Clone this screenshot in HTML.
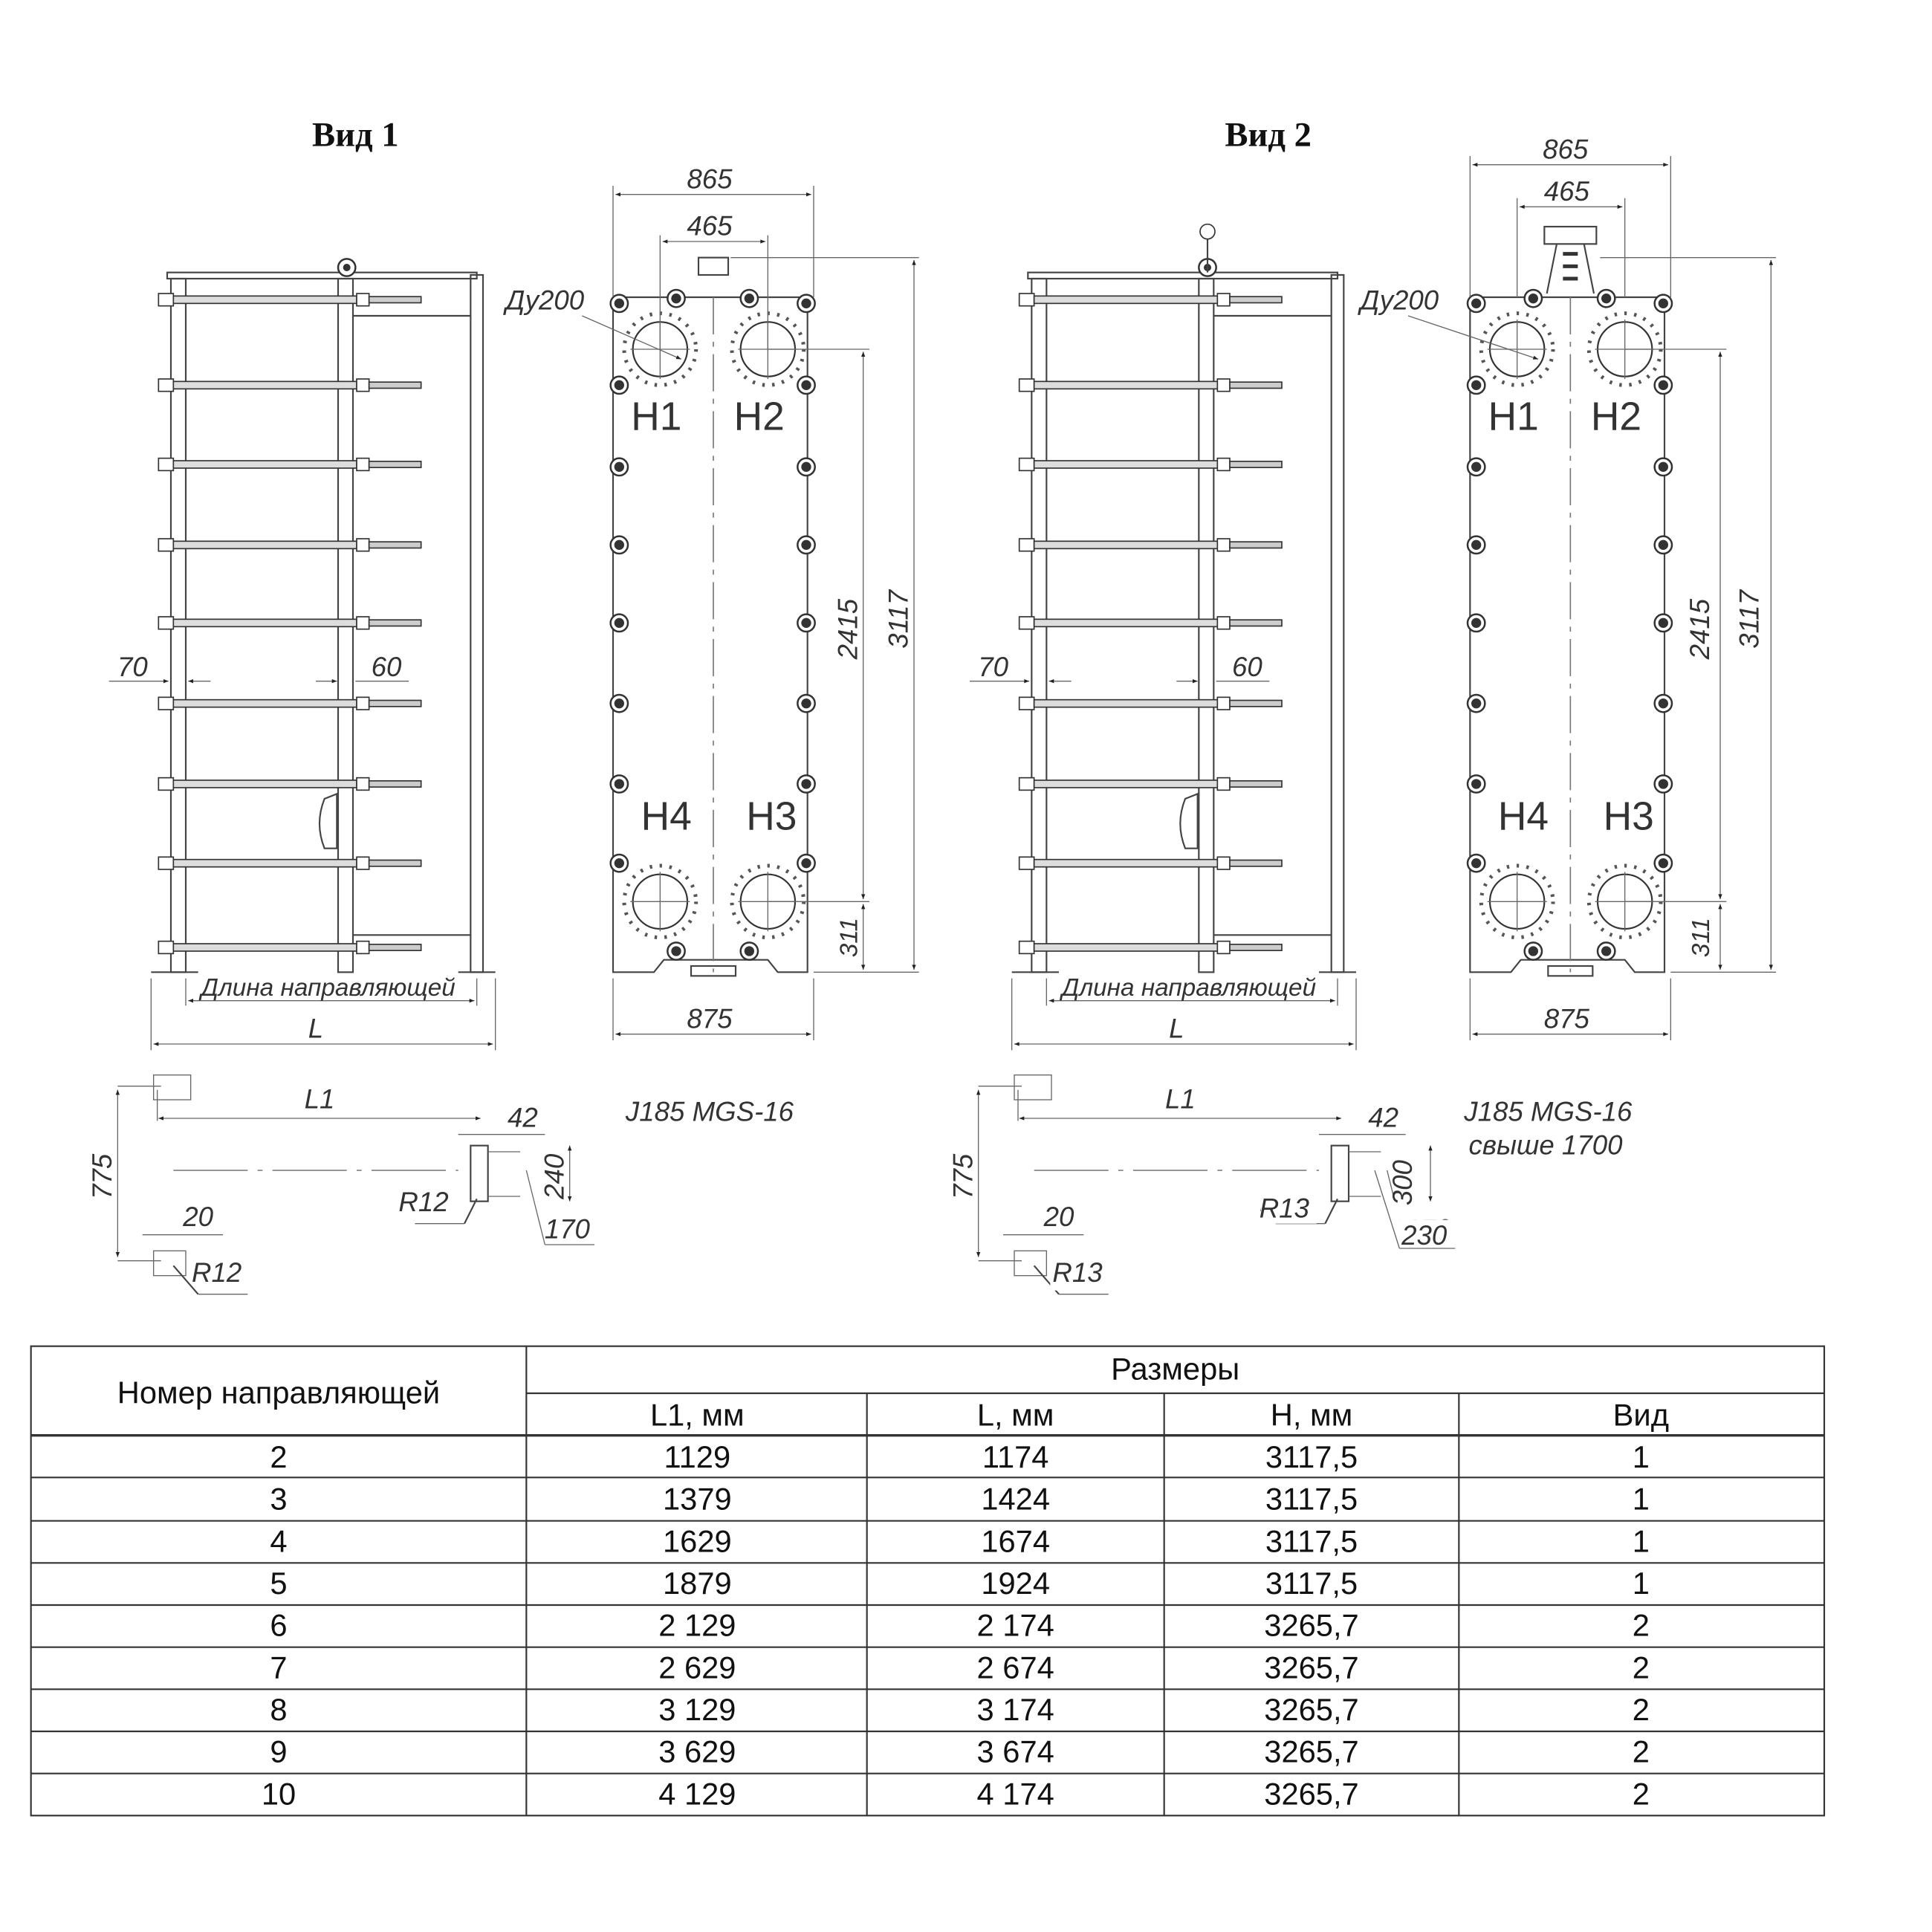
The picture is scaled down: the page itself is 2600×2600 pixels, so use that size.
<!DOCTYPE html>
<html><head><meta charset="utf-8"><style>
html,body{margin:0;padding:0;background:#fff}
svg{display:block}
.t{font-family:"Liberation Sans",sans-serif;font-style:italic;fill:#333}
.tb{font-family:"Liberation Sans",sans-serif;fill:#111}
.ln{stroke:#444;fill:none;stroke-width:1.3}
.thin{stroke:#666;fill:none;stroke-width:0.8}
</style></head><body>
<svg width="2600" height="2600" viewBox="0 0 1560 1560" xmlns="http://www.w3.org/2000/svg">
<defs>
<marker id="a" viewBox="0 0 10 10" refX="10" refY="5" markerWidth="8" markerHeight="5" orient="auto-start-reverse"><path d="M0,1 L10,5 L0,9z" fill="#222"/></marker>
<g id="bar">
 <rect x="128" y="-5" width="12" height="10" fill="#fff" stroke="#333"/>
 <rect x="140" y="-3" width="148" height="6" fill="#ddd" stroke="#333"/>
 <rect x="288" y="-5" width="10" height="10" fill="#fff" stroke="#333"/>
 <rect x="298" y="-2.5" width="42" height="5" fill="#ccc" stroke="#333"/>
</g>
<g id="bolt"><circle r="7" fill="#fff" stroke="#333" stroke-width="1.5"/><circle r="4" fill="#333"/></g>
<g id="port">
 <circle r="22" fill="#fff" stroke="#333" stroke-width="1.3"/>
 <circle r="29" fill="none" stroke="#555" stroke-width="3" stroke-dasharray="2 6"/>
 <line x1="-24" y1="0" x2="24" y2="0" class="thin"/><line x1="0" y1="-24" x2="0" y2="24" class="thin"/>
</g>
<g id="side">
 <rect x="135" y="220" width="250" height="5" class="ln"/>
 <rect x="138" y="225" width="12" height="560" class="ln"/>
 <rect x="273" y="225" width="12" height="560" class="ln"/>
 <rect x="380" y="222" width="10" height="563" class="ln"/>
 <line x1="285" y1="255" x2="380" y2="255" class="ln"/>
 <line x1="285" y1="755" x2="380" y2="755" class="ln"/>
 <circle cx="280" cy="216" r="7" fill="#fff" stroke="#333" stroke-width="1.5"/><circle cx="280" cy="216" r="3" fill="#333"/>
 <path d="M262,645 q-8,20 0,40 h10 v-44z" class="ln"/>
 <use href="#bar" y="242"/><use href="#bar" y="311"/><use href="#bar" y="375"/><use href="#bar" y="440"/><use href="#bar" y="503"/><use href="#bar" y="568"/><use href="#bar" y="633"/><use href="#bar" y="697"/><use href="#bar" y="765"/>
 <line x1="122" y1="785" x2="160" y2="785" class="ln"/><line x1="370" y1="785" x2="400" y2="785" class="ln"/>
 <line x1="150" y1="790" x2="150" y2="812" class="thin"/><line x1="385" y1="790" x2="385" y2="812" class="thin"/>
 <line x1="152" y1="808" x2="383" y2="808" class="thin" marker-start="url(#a)" marker-end="url(#a)"/>
 <text x="265" y="804" class="t" font-size="20" text-anchor="middle">Длина направляющей</text>
 <line x1="122" y1="790" x2="122" y2="848" class="thin"/><line x1="400" y1="790" x2="400" y2="848" class="thin"/>
 <line x1="124" y1="843" x2="398" y2="843" class="thin" marker-start="url(#a)" marker-end="url(#a)"/>
 <text x="255" y="838" class="t" font-size="22" text-anchor="middle">L</text>
 <line x1="88" y1="550" x2="136" y2="550" class="thin" marker-end="url(#a)"/><line x1="170" y1="550" x2="152" y2="550" class="thin" marker-end="url(#a)"/>
 <text x="107" y="546" class="t" font-size="22" text-anchor="middle">70</text>
 <line x1="255" y1="550" x2="272" y2="550" class="thin" marker-end="url(#a)"/><line x1="330" y1="550" x2="287" y2="550" class="thin"/>
 <text x="312" y="546" class="t" font-size="22" text-anchor="middle">60</text>
 <rect x="124" y="868" width="30" height="20" class="thin"/>
 <line x1="95" y1="877" x2="130" y2="877" class="thin"/><line x1="95" y1="1018" x2="130" y2="1018" class="thin"/>
 <line x1="95" y1="880" x2="95" y2="1015" class="thin" marker-start="url(#a)" marker-end="url(#a)"/>
 <text x="0" y="0" class="t" font-size="22" text-anchor="middle" transform="translate(90,950) rotate(-90)">775</text>
 <line x1="127" y1="880" x2="127" y2="905" class="thin"/>
 <line x1="128" y1="903" x2="388" y2="903" class="thin" marker-start="url(#a)" marker-end="url(#a)"/>
 <text x="258" y="895" class="t" font-size="22" text-anchor="middle">L1</text>
 <line x1="140" y1="945" x2="370" y2="945" stroke="#888" stroke-width="1" stroke-dasharray="60 8 4 8"/>
 <rect x="380" y="925" width="14" height="45" class="ln"/><line x1="394" y1="930" x2="420" y2="930" class="thin"/><line x1="394" y1="966" x2="420" y2="966" class="thin"/>
 <line x1="370" y1="916" x2="440" y2="916" class="thin"/>
 <text x="422" y="910" class="t" font-size="22" text-anchor="middle">42</text>
 <line x1="460" y1="925" x2="460" y2="970" class="thin" marker-start="url(#a)" marker-end="url(#a)"/>
 <text x="0" y="0" class="t" font-size="22" text-anchor="middle" transform="translate(455,950) rotate(-90)">240</text>
 <line x1="425" y1="945" x2="440" y2="1005" class="thin"/><line x1="440" y1="1005" x2="480" y2="1005" class="thin"/>
 <text x="458" y="1000" class="t" font-size="22" text-anchor="middle">170</text>
 <line x1="385" y1="968" x2="375" y2="988" class="ln"/><line x1="375" y1="988" x2="335" y2="988" class="thin"/>
 <text x="342" y="978" class="t" font-size="22" text-anchor="middle">R12</text>
 <text x="160" y="990" class="t" font-size="22" text-anchor="middle">20</text>
 <line x1="115" y1="997" x2="180" y2="997" class="thin"/>
 <rect x="124" y="1010" width="26" height="20" class="thin"/>
 <line x1="140" y1="1022" x2="160" y2="1045" class="ln"/><line x1="160" y1="1045" x2="200" y2="1045" class="thin"/>
 <text x="175" y="1035" class="t" font-size="22" text-anchor="middle">R12</text>
</g>
<g id="front">
 <path d="M500,240 H652 V785 H628 L620,775 H536 L528,785 H495 V240z" class="ln"/>
 <line x1="576" y1="240" x2="576" y2="785" stroke="#777" stroke-width="1" stroke-dasharray="30 6 4 6"/>
 <use href="#port" x="533" y="282"/><use href="#port" x="620" y="282"/>
 <use href="#port" x="533" y="728"/><use href="#port" x="620" y="728"/>
 <use href="#bolt" x="546" y="241"/><use href="#bolt" x="605" y="241"/><use href="#bolt" x="546" y="768"/><use href="#bolt" x="605" y="768"/>
 <use href="#bolt" x="500" y="245"/><use href="#bolt" x="651" y="245"/>
 <use href="#bolt" x="500" y="311"/><use href="#bolt" x="651" y="311"/>
 <use href="#bolt" x="500" y="377"/><use href="#bolt" x="651" y="377"/>
 <use href="#bolt" x="500" y="440"/><use href="#bolt" x="651" y="440"/>
 <use href="#bolt" x="500" y="503"/><use href="#bolt" x="651" y="503"/>
 <use href="#bolt" x="500" y="568"/><use href="#bolt" x="651" y="568"/>
 <use href="#bolt" x="500" y="633"/><use href="#bolt" x="651" y="633"/>
 <use href="#bolt" x="500" y="697"/><use href="#bolt" x="651" y="697"/>
 <rect x="558" y="780" width="36" height="8" class="ln"/>
 <text x="530" y="347" class="t" font-size="32" text-anchor="middle" style="font-style:normal">H1</text>
 <text x="613" y="347" class="t" font-size="32" text-anchor="middle" style="font-style:normal">H2</text>
 <text x="538" y="670" class="t" font-size="32" text-anchor="middle" style="font-style:normal">H4</text>
 <text x="623" y="670" class="t" font-size="32" text-anchor="middle" style="font-style:normal">H3</text>
 <line x1="495" y1="150" x2="495" y2="240" class="thin"/><line x1="657" y1="150" x2="657" y2="240" class="thin"/>
 <line x1="497" y1="157" x2="655" y2="157" class="thin" marker-start="url(#a)" marker-end="url(#a)"/>
 <text x="573" y="152" class="t" font-size="22" text-anchor="middle">865</text>
 <line x1="533" y1="190" x2="533" y2="282" class="thin"/><line x1="620" y1="190" x2="620" y2="282" class="thin"/>
 <line x1="535" y1="195" x2="618" y2="195" class="thin" marker-start="url(#a)" marker-end="url(#a)"/>
 <text x="573" y="190" class="t" font-size="22" text-anchor="middle">465</text>
 <line x1="495" y1="790" x2="495" y2="840" class="thin"/><line x1="657" y1="790" x2="657" y2="840" class="thin"/>
 <line x1="497" y1="835" x2="655" y2="835" class="thin" marker-start="url(#a)" marker-end="url(#a)"/>
 <text x="573" y="830" class="t" font-size="22" text-anchor="middle">875</text>
 <line x1="590" y1="208" x2="742" y2="208" class="thin"/><line x1="657" y1="785" x2="742" y2="785" class="thin"/>
 <line x1="738" y1="210" x2="738" y2="783" class="thin" marker-start="url(#a)" marker-end="url(#a)"/>
 <text x="0" y="0" class="t" font-size="22" text-anchor="middle" transform="translate(733,500) rotate(-90)">3117</text>
 <line x1="620" y1="282" x2="702" y2="282" class="thin"/><line x1="620" y1="728" x2="702" y2="728" class="thin"/>
 <line x1="697" y1="284" x2="697" y2="726" class="thin" marker-start="url(#a)" marker-end="url(#a)"/>
 <line x1="697" y1="730" x2="697" y2="783" class="thin" marker-start="url(#a)" marker-end="url(#a)"/>
 <text x="0" y="0" class="t" font-size="22" text-anchor="middle" transform="translate(692,508) rotate(-90)">2415</text>
 <text x="0" y="0" class="t" font-size="20" text-anchor="middle" transform="translate(692,757) rotate(-90)">311</text>
 <line x1="470" y1="255" x2="550" y2="290" class="thin" marker-end="url(#a)"/>
 <text x="440" y="250" class="t" font-size="22" text-anchor="middle">Ду200</text>
</g>
</defs>

<text x="287" y="118" font-family="Liberation Serif,serif" font-weight="bold" font-size="28" text-anchor="middle" fill="#111">Вид 1</text>
<text x="1024" y="118" font-family="Liberation Serif,serif" font-weight="bold" font-size="28" text-anchor="middle" fill="#111">Вид 2</text>

<use href="#side"/>
<use href="#front"/>
<rect x="564" y="208" width="24" height="14" class="ln"/>
<text x="573" y="905" class="t" font-size="22" text-anchor="middle">J185 MGS-16</text>

<g transform="translate(695,0)"><use href="#side"/></g>
<line x1="975" y1="192" x2="975" y2="220" class="ln"/>
<circle cx="975" cy="187" r="6" fill="#fff" stroke="#333"/>
<g transform="translate(692,0)">
 <path d="M500,240 H652 V785 H628 L620,775 H536 L528,785 H495 V240z" class="ln"/>
 <use href="#port" x="533" y="282"/><use href="#port" x="620" y="282"/>
 <use href="#port" x="533" y="728"/><use href="#port" x="620" y="728"/>
 <line x1="576" y1="240" x2="576" y2="785" stroke="#777" stroke-width="1" stroke-dasharray="30 6 4 6"/>
 <use href="#bolt" x="546" y="241"/><use href="#bolt" x="605" y="241"/><use href="#bolt" x="546" y="768"/><use href="#bolt" x="605" y="768"/>
 <use href="#bolt" x="500" y="245"/><use href="#bolt" x="651" y="245"/>
 <use href="#bolt" x="500" y="311"/><use href="#bolt" x="651" y="311"/>
 <use href="#bolt" x="500" y="377"/><use href="#bolt" x="651" y="377"/>
 <use href="#bolt" x="500" y="440"/><use href="#bolt" x="651" y="440"/>
 <use href="#bolt" x="500" y="503"/><use href="#bolt" x="651" y="503"/>
 <use href="#bolt" x="500" y="568"/><use href="#bolt" x="651" y="568"/>
 <use href="#bolt" x="500" y="633"/><use href="#bolt" x="651" y="633"/>
 <use href="#bolt" x="500" y="697"/><use href="#bolt" x="651" y="697"/>
 <rect x="558" y="780" width="36" height="8" class="ln"/>
 <rect x="555" y="183" width="42" height="14" class="ln"/>
 <path d="M565,197 l-8,40 M587,197 l8,40" class="ln"/>
 <path d="M570,205 h12 M570,215 h12 M570,225 h12" stroke="#333" stroke-width="3"/>
 <text x="530" y="347" class="t" font-size="32" text-anchor="middle" style="font-style:normal">H1</text>
 <text x="613" y="347" class="t" font-size="32" text-anchor="middle" style="font-style:normal">H2</text>
 <text x="538" y="670" class="t" font-size="32" text-anchor="middle" style="font-style:normal">H4</text>
 <text x="623" y="670" class="t" font-size="32" text-anchor="middle" style="font-style:normal">H3</text>
 <line x1="495" y1="126" x2="495" y2="240" class="thin"/><line x1="657" y1="126" x2="657" y2="240" class="thin"/>
 <line x1="497" y1="133" x2="655" y2="133" class="thin" marker-start="url(#a)" marker-end="url(#a)"/>
 <text x="572" y="128" class="t" font-size="22" text-anchor="middle">865</text>
 <line x1="533" y1="160" x2="533" y2="240" class="thin"/><line x1="620" y1="160" x2="620" y2="240" class="thin"/>
 <line x1="535" y1="167" x2="618" y2="167" class="thin" marker-start="url(#a)" marker-end="url(#a)"/>
 <text x="573" y="162" class="t" font-size="22" text-anchor="middle">465</text>
 <line x1="495" y1="790" x2="495" y2="840" class="thin"/><line x1="657" y1="790" x2="657" y2="840" class="thin"/>
 <line x1="497" y1="835" x2="655" y2="835" class="thin" marker-start="url(#a)" marker-end="url(#a)"/>
 <text x="573" y="830" class="t" font-size="22" text-anchor="middle">875</text>
 <line x1="600" y1="208" x2="742" y2="208" class="thin"/><line x1="657" y1="785" x2="742" y2="785" class="thin"/>
 <line x1="738" y1="210" x2="738" y2="783" class="thin" marker-start="url(#a)" marker-end="url(#a)"/>
 <text x="0" y="0" class="t" font-size="22" text-anchor="middle" transform="translate(728,500) rotate(-90)">3117</text>
 <line x1="620" y1="282" x2="702" y2="282" class="thin"/><line x1="620" y1="728" x2="702" y2="728" class="thin"/>
 <line x1="697" y1="284" x2="697" y2="726" class="thin" marker-start="url(#a)" marker-end="url(#a)"/>
 <line x1="697" y1="730" x2="697" y2="783" class="thin" marker-start="url(#a)" marker-end="url(#a)"/>
 <text x="0" y="0" class="t" font-size="22" text-anchor="middle" transform="translate(688,508) rotate(-90)">2415</text>
 <text x="0" y="0" class="t" font-size="20" text-anchor="middle" transform="translate(688,757) rotate(-90)">311</text>
 <line x1="445" y1="255" x2="550" y2="290" class="thin" marker-end="url(#a)"/>
 <text x="438" y="250" class="t" font-size="22" text-anchor="middle">Ду200</text>
</g>
<text x="1250" y="905" class="t" font-size="22" text-anchor="middle">J185 MGS-16</text>
<text x="1248" y="932" class="t" font-size="22" text-anchor="middle">свыше 1700</text>
<rect x="1125" y="925" width="40" height="60" fill="#fff"/>
<rect x="1018" y="960" width="45" height="28" fill="#fff"/>
<rect x="848" y="1012" width="45" height="30" fill="#fff"/>
<line x1="1155" y1="925" x2="1155" y2="970" class="thin" marker-start="url(#a)" marker-end="url(#a)"/>
<text x="1140" y="955" class="t" font-size="22" text-anchor="middle" transform="rotate(-90 1140 955)">300</text>
<text x="1037" y="983" class="t" font-size="22" text-anchor="middle">R13</text>
<text x="870" y="1035" class="t" font-size="22" text-anchor="middle">R13</text>
<rect x="1125" y="985" width="50" height="26" fill="#fff"/>
<line x1="1110" y1="945" x2="1130" y2="1008" class="thin"/>
<text x="1150" y="1005" class="t" font-size="22" text-anchor="middle">230</text>
<line x1="1130" y1="1008" x2="1175" y2="1008" class="thin"/>

<g stroke="#333" stroke-width="1.3" fill="none">
 <rect x="25" y="1087" width="1448" height="379"/>
 <line x1="425" y1="1087" x2="425" y2="1466"/>
 <line x1="425" y1="1125" x2="1473" y2="1125"/>
 <line x1="700" y1="1125" x2="700" y2="1466"/>
 <line x1="940" y1="1125" x2="940" y2="1466"/>
 <line x1="1178" y1="1125" x2="1178" y2="1466"/>
 <line x1="25" y1="1159" x2="1473" y2="1159" stroke-width="2"/>
 <line x1="25" y1="1193" x2="1473" y2="1193"/>
 <line x1="25" y1="1228" x2="1473" y2="1228"/>
 <line x1="25" y1="1262" x2="1473" y2="1262"/>
 <line x1="25" y1="1296" x2="1473" y2="1296"/>
 <line x1="25" y1="1330" x2="1473" y2="1330"/>
 <line x1="25" y1="1364" x2="1473" y2="1364"/>
 <line x1="25" y1="1398" x2="1473" y2="1398"/>
 <line x1="25" y1="1432" x2="1473" y2="1432"/>
</g>
<g class="tb" font-size="25" text-anchor="middle">
 <text x="225" y="1133">Номер направляющей</text>
 <text x="949" y="1114">Размеры</text>
 <text x="563" y="1151">L1, мм</text><text x="820" y="1151">L, мм</text><text x="1059" y="1151">H, мм</text><text x="1325" y="1151">Вид</text>
 <text x="225" y="1185">2</text><text x="563" y="1185">1129</text><text x="820" y="1185">1174</text><text x="1059" y="1185">3117,5</text><text x="1325" y="1185">1</text>
 <text x="225" y="1219">3</text><text x="563" y="1219">1379</text><text x="820" y="1219">1424</text><text x="1059" y="1219">3117,5</text><text x="1325" y="1219">1</text>
 <text x="225" y="1253">4</text><text x="563" y="1253">1629</text><text x="820" y="1253">1674</text><text x="1059" y="1253">3117,5</text><text x="1325" y="1253">1</text>
 <text x="225" y="1287">5</text><text x="563" y="1287">1879</text><text x="820" y="1287">1924</text><text x="1059" y="1287">3117,5</text><text x="1325" y="1287">1</text>
 <text x="225" y="1321">6</text><text x="563" y="1321">2 129</text><text x="820" y="1321">2 174</text><text x="1059" y="1321">3265,7</text><text x="1325" y="1321">2</text>
 <text x="225" y="1355">7</text><text x="563" y="1355">2 629</text><text x="820" y="1355">2 674</text><text x="1059" y="1355">3265,7</text><text x="1325" y="1355">2</text>
 <text x="225" y="1389">8</text><text x="563" y="1389">3 129</text><text x="820" y="1389">3 174</text><text x="1059" y="1389">3265,7</text><text x="1325" y="1389">2</text>
 <text x="225" y="1423">9</text><text x="563" y="1423">3 629</text><text x="820" y="1423">3 674</text><text x="1059" y="1423">3265,7</text><text x="1325" y="1423">2</text>
 <text x="225" y="1457">10</text><text x="563" y="1457">4 129</text><text x="820" y="1457">4 174</text><text x="1059" y="1457">3265,7</text><text x="1325" y="1457">2</text>
</g>
</svg>
</body></html>
